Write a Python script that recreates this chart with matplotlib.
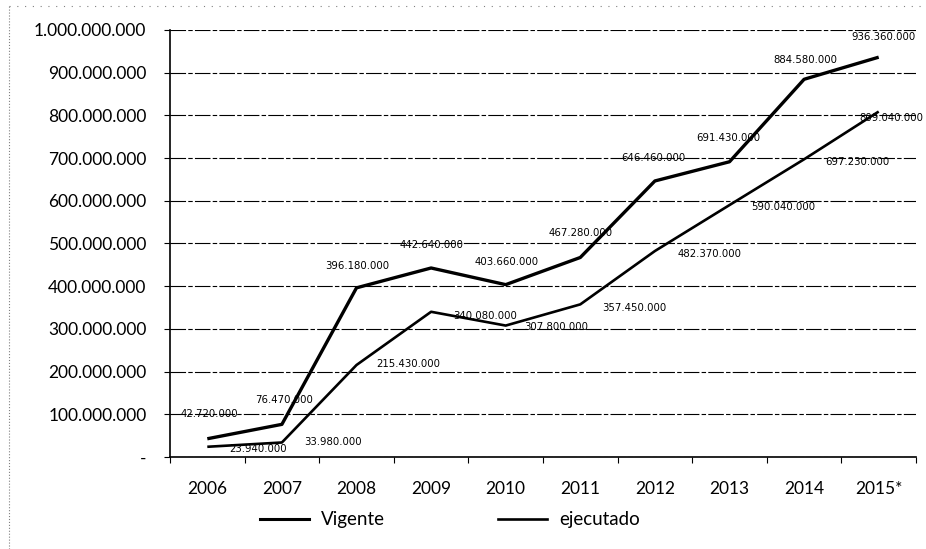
import numpy as np
import matplotlib
matplotlib.use("Agg")
import matplotlib.pyplot as plt
from matplotlib.lines import Line2D
from matplotlib.ticker import FuncFormatter, MultipleLocator

years = ["2006", "2007", "2008", "2009", "2010", "2011", "2012", "2013", "2014", "2015*"]
vigente = [42720000, 76470000, 396180000, 442640000, 403660000,
           467280000, 646460000, 691430000, 884580000, 936360000]
ejecutado = [23940000, 33980000, 215430000, 340080000, 307800000,
             357450000, 482370000, 590040000, 697230000, 809040000]

# label placement (pixel offsets from each point)
vig_off = [(2, 25), (2, 24), (1, 22), (0, 23), (1, 23), (0, 24), (-2, 23), (-1, 24), (1, 19), (5, 20)]
eje_off = [(51, -2), (51, 0), (52, 1), (54, -4), (50, -1), (54, -4), (55, -3), (54, -2), (53, -3), (13, -6)]


def miles(v, pos=None):
    if v == 0:
        return "-"
    return f"{int(round(v)):,}".replace(",", ".")


fig = plt.figure(figsize=(9.26, 5.49), dpi=100)
ax = fig.add_axes([170 / 926, 1 - 457 / 549, 746 / 926, 427 / 549])

x = np.arange(len(years))
ax.plot(x, vigente, color="black", lw=2.4, solid_capstyle="butt", zorder=4)
ax.plot(x, ejecutado, color="black", lw=1.9, solid_capstyle="butt", zorder=4)

for i, v in enumerate(vigente):
    ax.annotate(miles(v), (x[i], v), textcoords="offset pixels", xytext=vig_off[i],
                ha="center", va="center", fontsize=7.3, family="DejaVu Sans", zorder=5)
for i, v in enumerate(ejecutado):
    ax.annotate(miles(v), (x[i], v), textcoords="offset pixels", xytext=eje_off[i],
                ha="center", va="center", fontsize=7.3, family="DejaVu Sans", zorder=5,
                annotation_clip=False)

ax.set_xlim(-0.5, len(years) - 0.5)
ax.set_ylim(0, 1e9)
ax.yaxis.set_major_locator(MultipleLocator(1e8))
ax.yaxis.set_major_formatter(FuncFormatter(miles))
ax.grid(axis="y", color="black", lw=0.8, linestyle=(0, (14, 2, 4, 2)))
ax.set_axisbelow(True)

ax.set_xticks(x)
ax.set_xticklabels(years)
ax.set_xticks(np.arange(-0.5, len(years), 1), minor=True)
ax.tick_params(axis="x", which="major", length=0, pad=17, labelsize=12.5)
ax.tick_params(axis="x", which="minor", length=4, width=0.8, direction="out")
ax.tick_params(axis="y", length=4, width=0.8, pad=13, labelsize=12.5)
for lab in ax.get_xticklabels() + ax.get_yticklabels():
    lab.set_family("Lato")

for s in ["top", "right"]:
    ax.spines[s].set_visible(False)
ax.spines["left"].set_linewidth(1.2)
ax.spines["bottom"].set_linewidth(1.2)

handles = [Line2D([], [], color="black", lw=2.2), Line2D([], [], color="black", lw=1.9)]
fig.legend(handles, ["Vigente", "ejecutado"], loc="center", bbox_to_anchor=(450 / 926, 1 - 520 / 549),
           ncol=2, frameon=False, handlelength=2.6, handletextpad=0.65, columnspacing=6.0,
           prop={"family": "Lato", "size": 13.5})

# faint dotted frame of the scanned chart
fig.add_artist(Line2D([9 / 926, 9 / 926], [0, 1 - 6 / 549], transform=fig.transFigure,
                      color="gray", lw=0.8, linestyle=":"))
fig.add_artist(Line2D([9 / 926, 1], [1 - 6 / 549, 1 - 6 / 549], transform=fig.transFigure,
                      color="gray", lw=0.8, linestyle=(0, (1, 6))))

plt.savefig("out.png", dpi=100)
plt.close()
